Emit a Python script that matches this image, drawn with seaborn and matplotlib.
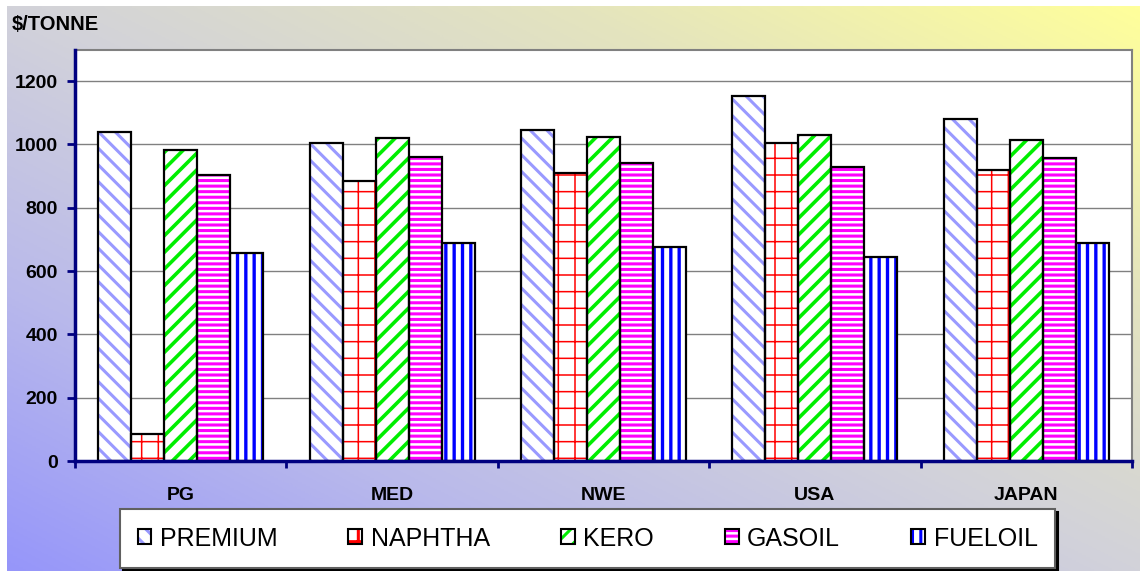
import numpy as np
import pandas as pd
import matplotlib
matplotlib.use("Agg")
import matplotlib.pyplot as plt
import seaborn as sns
from matplotlib.patches import Patch, Rectangle
from matplotlib.colors import LinearSegmentedColormap
from matplotlib.legend_handler import HandlerTuple

# ---------------- data ----------------
regions = ["PG", "MED", "NWE", "USA", "JAPAN"]
series = ["PREMIUM", "NAPHTHA", "KERO", "GASOIL", "FUELOIL"]
premium = [1038, 1006, 1045, 1152, 1082]
naphtha = [86, 886, 911, 1006, 918]
kero = [981, 1019, 1025, 1031, 1013]
gasoil = [905, 959, 943, 930, 956]
fueloil = [657, 689, 676, 643, 689]
yticks = [0, 200, 400, 600, 800, 1000, 1200]
ylabel = "$/TONNE"

values = {"PREMIUM": premium, "NAPHTHA": naphtha, "KERO": kero,
          "GASOIL": gasoil, "FUELOIL": fueloil}
df = pd.DataFrame([(r, s, values[s][i]) for s in series for i, r in enumerate(regions)],
                  columns=["region", "series", "value"])

# ---------------- style ----------------
hatch_colors = {"PREMIUM": "#9999ff", "NAPHTHA": "#ff0000", "KERO": "#00ee00",
                "GASOIL": "#ff00ff", "FUELOIL": "#0000ff"}
hatches = {"PREMIUM": "\\\\", "NAPHTHA": "+", "KERO": "//",
           "GASOIL": "---", "FUELOIL": "||"}
hatch_lw = {"PREMIUM": 2.2, "NAPHTHA": 1.1, "KERO": 2.6, "GASOIL": 2.2, "FUELOIL": 2.4}

sns.set_theme(style="white")
plt.rcParams["font.family"] = ["Liberation Sans", "DejaVu Sans"]
plt.rcParams["hatch.linewidth"] = 2.2
plt.rcParams["text.color"] = "black"
plt.rcParams["xtick.labelcolor"] = "black"
plt.rcParams["ytick.labelcolor"] = "black"

W, H = 1142, 571
fig = plt.figure(figsize=(W / 100, H / 100), dpi=100)
fig.patch.set_facecolor("white")

# gradient background
bg = fig.add_axes([7 / W, 0, (1140 - 7) / W, (H - 6) / H], zorder=-10)
gh, gw = 300, 600
xn = np.linspace(0, 1, gw)[None, :]
yn = np.linspace(0, 1, gh)[:, None]  # 0 at top row
t = (xn + (1 - yn)) / 2
cmap = LinearSegmentedColormap.from_list(
    "bg", [(0.0, (150/255, 150/255, 250/255)),
           (0.25, (185/255, 185/255, 235/255)),
           (0.5, (210/255, 210/255, 218/255)),
           (0.75, (228/255, 228/255, 190/255)),
           (1.0, (255/255, 255/255, 155/255))])
bg.imshow(t, cmap=cmap, aspect="auto", extent=[0, 1, 0, 1], interpolation="bilinear")
bg.set_axis_off()

# main axes
ax = fig.add_axes([75 / W, (H - 461) / H, (1132 - 75) / W, (461 - 49.5) / H])
ax.set_facecolor("white")

sns.barplot(data=df, x="region", y="value", hue="series", order=regions,
            hue_order=series, width=0.78, gap=0, saturation=1,
            palette=[hatch_colors[s] for s in series], linewidth=0,
            legend=False, ax=ax, errorbar=None)

for cont, s in zip(ax.containers, series):
    for p in cont:
        p.set_facecolor("white")
        p.set_edgecolor(hatch_colors[s])
        p.set_hatch(hatches[s])
        p.set_linewidth(0)
        if hasattr(p, "set_hatch_linewidth"):
            p.set_hatch_linewidth(hatch_lw[s])
        p.set_zorder(2)
        ax.add_patch(Rectangle(p.get_xy(), p.get_width(), p.get_height(),
                               fill=False, edgecolor="black", linewidth=1.6, zorder=3))

ax.set_ylim(0, 1300)
ax.set_xlim(-0.5, len(regions) - 0.5)
ax.set_yticks(yticks)
ax.set_yticklabels([str(v) for v in yticks], fontsize=14, fontweight="bold", color="black")
ax.set_xticks(range(len(regions)))
ax.set_xticklabels(regions, fontsize=14, fontweight="bold", color="black")
ax.set_xticks(np.arange(len(regions) + 1) - 0.5, minor=True)
ax.set_xlabel("")
ax.set_ylabel("")
ax.set_axisbelow(True)
ax.yaxis.grid(True, color="#808080", linewidth=1.0)
ax.xaxis.grid(False)

ax.tick_params(axis="x", which="major", length=0, pad=19)
ax.tick_params(axis="x", which="minor", length=5, width=2, direction="out",
               color="#000080", bottom=True)
ax.tick_params(axis="y", which="major", length=6, width=2, direction="out",
               color="#000080", pad=6.5, left=True)

for side in ["left", "bottom"]:
    ax.spines[side].set_color("#000080")
    ax.spines[side].set_linewidth(2.5)
    ax.spines[side].set_zorder(5)
for side in ["top", "right"]:
    ax.spines[side].set_color("#808080")
    ax.spines[side].set_linewidth(1.5)

fig.text(12 / W, 1 - 25 / H, ylabel, fontsize=14.5, fontweight="bold",
         ha="left", va="center", color="black")

# legend
handles = []
for s in series:
    handles.append((Patch(facecolor="white", edgecolor=hatch_colors[s], hatch=hatches[s], linewidth=0),
                    Patch(facecolor="none", edgecolor="black", linewidth=1.5)))
leg = fig.legend(handles, series, ncol=5, loc="center",
                 bbox_to_anchor=(120 / W, 2 / H, 935 / W, 61 / H), mode="expand",
                 borderaxespad=0,
                 fontsize=18, frameon=True, fancybox=False,
                 shadow={"color": "black", "alpha": 1},
                 handlelength=0.55, handleheight=0.55, handletextpad=0.35,
                 borderpad=0.7, columnspacing=2.4,
                 handler_map={tuple: HandlerTuple(ndivide=1, pad=0)})
for txt in leg.get_texts():
    txt.set_color("black")
leg.get_frame().set_edgecolor("#606060")
leg.get_frame().set_linewidth(1.5)
leg.get_frame().set_facecolor("white")

fig.savefig("out.png", dpi=100)
